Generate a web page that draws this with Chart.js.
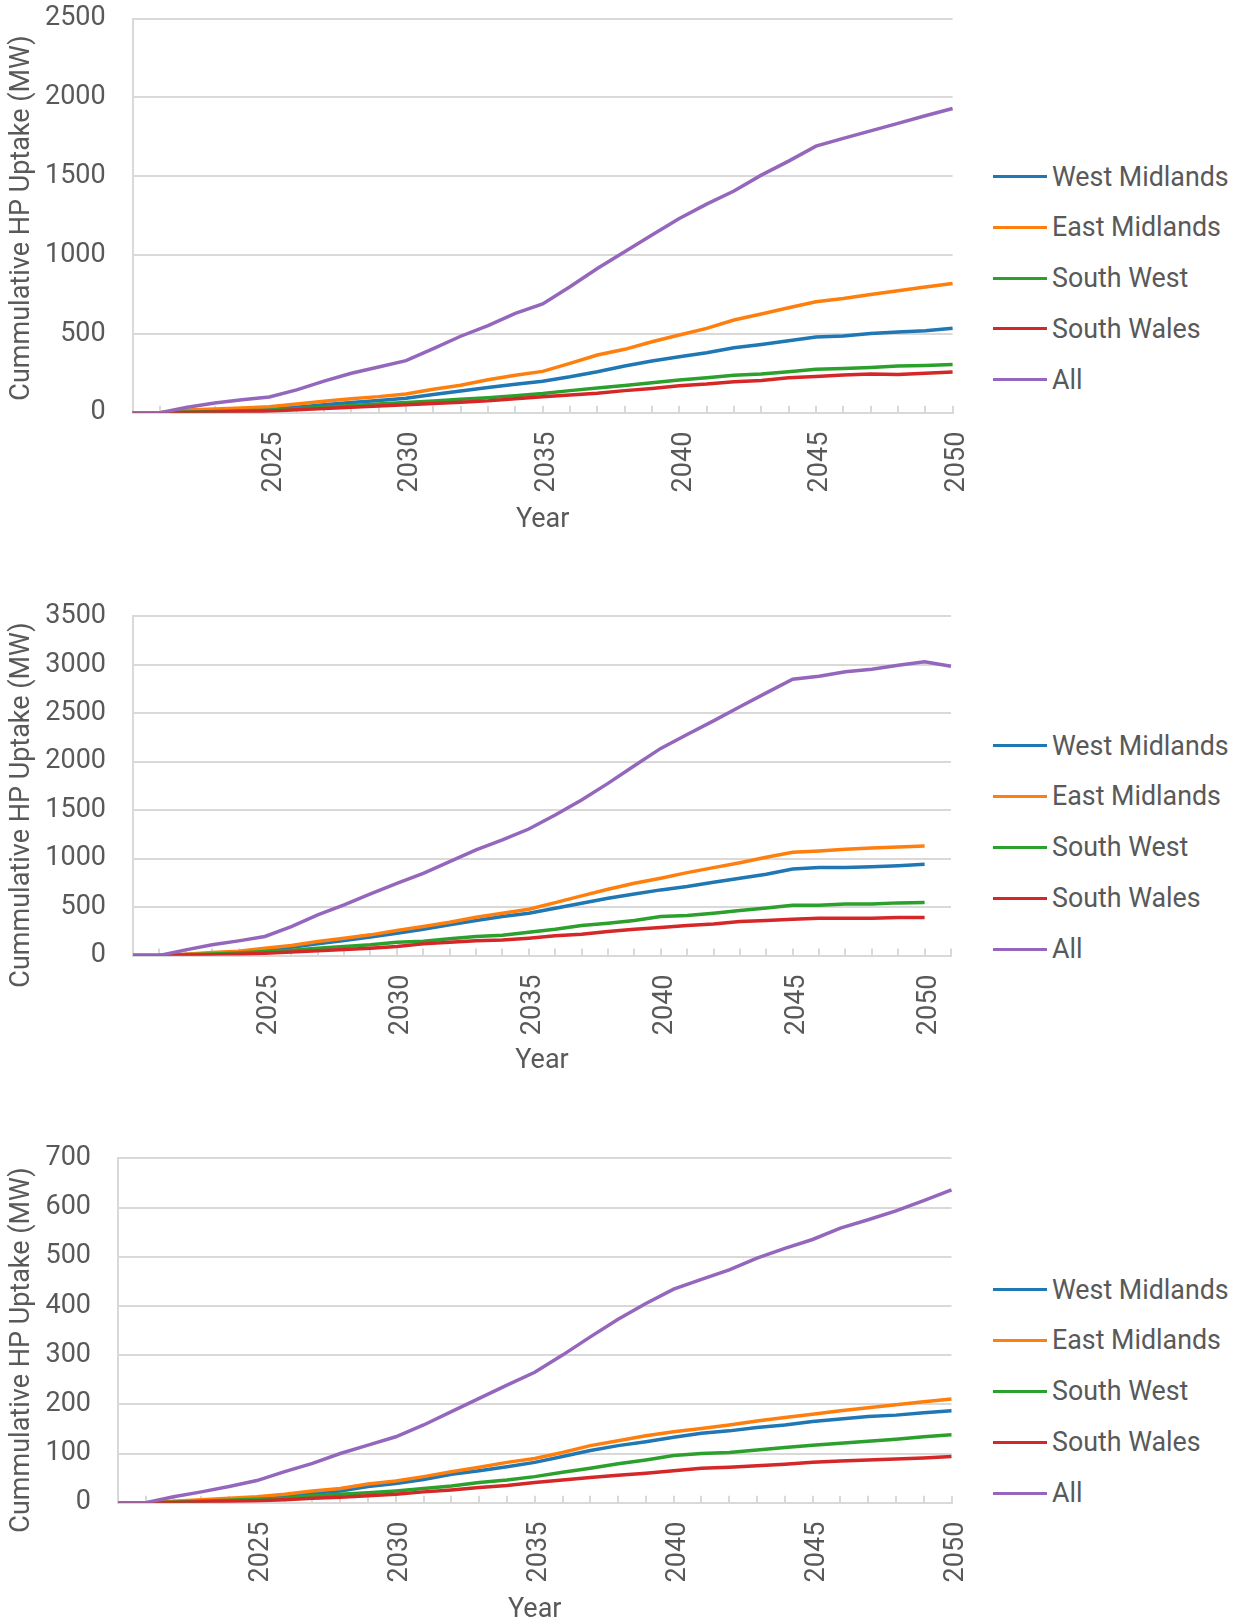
<!DOCTYPE html>
<html>
<head>
<meta charset="utf-8">
<title>Cumulative HP uptake</title>
<script src="https://cdn.jsdelivr.net/npm/chart.js@4.4.1/dist/chart.umd.min.js"></script>
<style>
  html, body { margin: 0; padding: 0; background: #fff; overflow: hidden; }
  body { position: relative; width: 1244px; height: 1622px; font-family: Roboto, sans-serif; }
  canvas { position: absolute; left: 0; }
  .legend-row { position: absolute; left: 993px; height: 50px; display: flex; align-items: center;
                white-space: nowrap; color: #595959; font-size: 26.8px; font-family: Roboto, sans-serif; }
  .legend-line { display: inline-block; width: 54px; height: 3px; margin-right: 5px; }
</style>
</head>
<body>
<canvas id="chart1" width="980" height="545" style="top:0px"></canvas>
<canvas id="chart2" width="980" height="510" style="top:580px"></canvas>
<canvas id="chart3" width="980" height="510" style="top:1120px"></canvas>

<script>
// Данные
const years = [2020, 2021, 2022, 2023, 2024, 2025, 2026, 2027, 2028, 2029, 2030,
               2031, 2032, 2033, 2034, 2035, 2036, 2037, 2038, 2039, 2040,
               2041, 2042, 2043, 2044, 2045, 2046, 2047, 2048, 2049, 2050];
const yearsExt = years.concat([2051]);

const seriesNames = ['West Midlands', 'East Midlands', 'South West', 'South Wales', 'All'];
const seriesColors = ['#1f77b4', '#ff7f0e', '#2ca02c', '#d62728', '#9467bd'];

// Верхний график
const c1West = [0, 0, 8, 12, 17, 22, 35, 50, 65, 78, 92, 115, 138, 160, 180, 200, 228, 260, 296, 328, 355, 380, 412, 433, 457, 480, 486, 503, 512, 520, 535];
const c1East = [0, 0, 17, 23, 30, 38, 55, 72, 89, 102, 119, 149, 174, 209, 238, 262, 313, 366, 402, 450, 493, 535, 588, 626, 666, 704, 725, 750, 774, 797, 820];
const c1SouthWest = [0, 0, 5, 8, 12, 16, 25, 35, 45, 55, 64, 75, 85, 95, 108, 122, 140, 156, 173, 190, 207, 222, 237, 245, 260, 275, 281, 287, 296, 300, 306];
const c1Wales = [0, 0, 2, 5, 7, 10, 18, 27, 35, 42, 50, 58, 66, 75, 88, 101, 112, 123, 140, 154, 171, 182, 197, 205, 222, 230, 239, 245, 243, 250, 258];
const c1All = [0, 0, 35, 62, 82, 100, 145, 200, 250, 290, 330, 406, 485, 553, 630, 690, 799, 915, 1021, 1127, 1232, 1323, 1406, 1507, 1596, 1691, 1740, 1788, 1835, 1884, 1930];

// Средний график (последняя точка только у All)
const c2West = [0, 0, 10, 20, 35, 58, 86, 120, 155, 190, 230, 271, 316, 361, 402, 436, 488, 539, 591, 635, 677, 711, 756, 797, 838, 893, 907, 907, 917, 927, 941, null];
const c2East = [0, 0, 14, 30, 45, 75, 103, 144, 179, 213, 258, 299, 343, 395, 436, 477, 546, 615, 684, 745, 797, 855, 907, 958, 1013, 1065, 1079, 1096, 1109, 1120, 1130, null];
const c2SouthWest = [0, 0, 8, 15, 25, 41, 55, 76, 93, 110, 137, 148, 172, 196, 210, 240, 271, 309, 333, 361, 402, 412, 436, 464, 491, 519, 519, 532, 532, 543, 546, null];
const c2Wales = [0, 0, 3, 6, 12, 24, 35, 48, 62, 76, 93, 120, 137, 151, 161, 179, 203, 220, 247, 271, 289, 309, 326, 350, 361, 374, 385, 385, 385, 392, 392, null];
const c2All = [0, 0, 58, 110, 151, 196, 299, 419, 522, 635, 745, 848, 969, 1089, 1192, 1305, 1450, 1604, 1776, 1958, 2137, 2281, 2421, 2566, 2710, 2851, 2882, 2927, 2954, 2995, 3030, 2985];

// Нижний график
const c3West = [0, 0, 2, 4, 7, 9, 12, 19, 24, 33, 39, 47, 58, 65, 73, 82, 94, 106, 116, 124, 133, 141, 146, 153, 158, 165, 170, 175, 178, 183, 187];
const c3East = [0, 0, 3, 6, 9, 12, 17, 24, 29, 38, 44, 53, 63, 72, 82, 90, 102, 116, 126, 136, 144, 151, 158, 166, 173, 180, 187, 193, 199, 205, 211];
const c3SouthWest = [0, 0, 1, 3, 5, 7, 9, 14, 17, 20, 24, 29, 34, 41, 46, 53, 62, 70, 79, 87, 96, 100, 102, 107, 112, 117, 121, 125, 129, 134, 138];
const c3Wales = [0, 0, 0.5, 2, 3, 4, 6, 9, 11, 14, 17, 22, 26, 31, 35, 41, 46, 51, 56, 60, 65, 70, 72, 75, 78, 82, 85, 87, 89, 91, 94];
const c3All = [0, 0, 12, 22, 33, 45, 63, 80, 100, 117, 134, 158, 185, 212, 239, 265, 300, 337, 373, 405, 434, 454, 473, 497, 517, 535, 558, 575, 593, 614, 636];

const textColor = '#595959';
const gridColor = '#d9d9d9';
const baseFont = { family: 'Roboto', size: 27 };

// Подпись оси Y рисуем сами: в оригинале она сдвинута относительно центра области
const yTitlePlugin = {
    id: 'yTitle',
    afterDraw: function(chart, args, opts) {
        const ctx = chart.ctx;
        ctx.save();
        ctx.translate(opts.x, opts.y);
        ctx.rotate(-Math.PI / 2);
        ctx.font = baseFont.size + 'px ' + baseFont.family;
        ctx.fillStyle = textColor;
        ctx.textAlign = 'center';
        ctx.textBaseline = 'middle';
        ctx.fillText(opts.text, 0, 0);
        ctx.restore();
    }
};

function makeChart(id, labels, series, yMax, yStep, lay) {
    const ctx = document.getElementById(id).getContext('2d');
    const n = series.length;

    return new Chart(ctx, {
        type: 'line',
        data: {
            labels: labels,
            datasets: series.map(function(values, i) {
                return {
                    label: seriesNames[i],
                    data: values,
                    borderColor: seriesColors[i],
                    backgroundColor: seriesColors[i],
                    borderWidth: 3.5,
                    pointRadius: 0,
                    tension: 0,
                    fill: false,
                    order: n - i   // "All" поверх остальных
                };
            })
        },
        plugins: [yTitlePlugin],
        options: {
            responsive: false,
            animation: false,
            layout: { padding: { top: lay.top, right: lay.right, left: 0, bottom: 0 } },
            plugins: {
                legend: { display: false },
                tooltip: { enabled: false },
                yTitle: { text: 'Cummulative HP Uptake (MW)', x: 22, y: lay.titleY }
            },
            scales: {
                x: {
                    grid: { drawOnChartArea: false, drawTicks: true, tickLength: -7,
                            color: gridColor, tickColor: gridColor, lineWidth: 2 },
                    border: { color: gridColor, width: 2 },
                    ticks: {
                        autoSkip: false,
                        maxRotation: 90,
                        minRotation: 90,
                        padding: 26,
                        labelOffset: 4.5,
                        color: textColor,
                        font: baseFont,
                        callback: function(value, index) {
                            const year = Number(this.getLabelForValue(value));
                            return (index > 0 && year % 5 === 0) ? String(year) : '';
                        }
                    },
                    title: { display: true, text: 'Year', color: textColor, font: baseFont,
                             padding: { top: 0, bottom: lay.titlePad } },
                    afterFit: function(scale) {
                        scale.height = lay.xHeight;
                        scale.paddingLeft = 0;
                        scale.paddingRight = 0;
                    }
                },
                y: {
                    min: 0,
                    max: yMax,
                    ticks: {
                        stepSize: yStep, padding: 27, color: textColor, font: baseFont,
                        callback: function(value) { return String(value); }
                    },
                    grid: { color: gridColor, lineWidth: 2, drawTicks: false },
                    border: { color: gridColor, width: 2 },
                    title: { display: false },
                    afterFit: function(scale) {
                        scale.width = lay.yWidth;
                        scale.paddingTop = 0;
                        scale.paddingBottom = 0;
                    }
                }
            }
        }
    });
}

// Легенда справа, строится из наборов данных графика
function buildLegend(chart, firstY, step) {
    chart.data.datasets.forEach(function(ds, i) {
        const row = document.createElement('div');
        row.className = 'legend-row';
        row.style.top = (firstY + i * step - 25) + 'px';
        const line = document.createElement('span');
        line.className = 'legend-line';
        line.style.background = ds.borderColor;
        const text = document.createElement('span');
        text.textContent = ds.label;
        row.appendChild(line);
        row.appendChild(text);
        document.body.appendChild(row);
    });
}

const chart1 = makeChart('chart1', years, [c1West, c1East, c1SouthWest, c1Wales, c1All], 2500, 500,
    { top: 18.6, right: 27.4, yWidth: 132.7, xHeight: 132.3, titlePad: 9, titleY: 218 });
const chart2 = makeChart('chart2', yearsExt, [c2West, c2East, c2SouthWest, c2Wales, c2All], 3500, 500,
    { top: 36.3, right: 29, yWidth: 133, xHeight: 134.5, titlePad: 12.3, titleY: 225 });
const chart3 = makeChart('chart3', years, [c3West, c3East, c3SouthWest, c3Wales, c3All], 700, 100,
    { top: 38.3, right: 28.5, yWidth: 118, xHeight: 127.3, titlePad: 4, titleY: 230 });

buildLegend(chart1, 176.5, 50.8);
buildLegend(chart2, 745.6, 50.85);
buildLegend(chart3, 1289.5, 50.9);
</script>
</body>
</html>
